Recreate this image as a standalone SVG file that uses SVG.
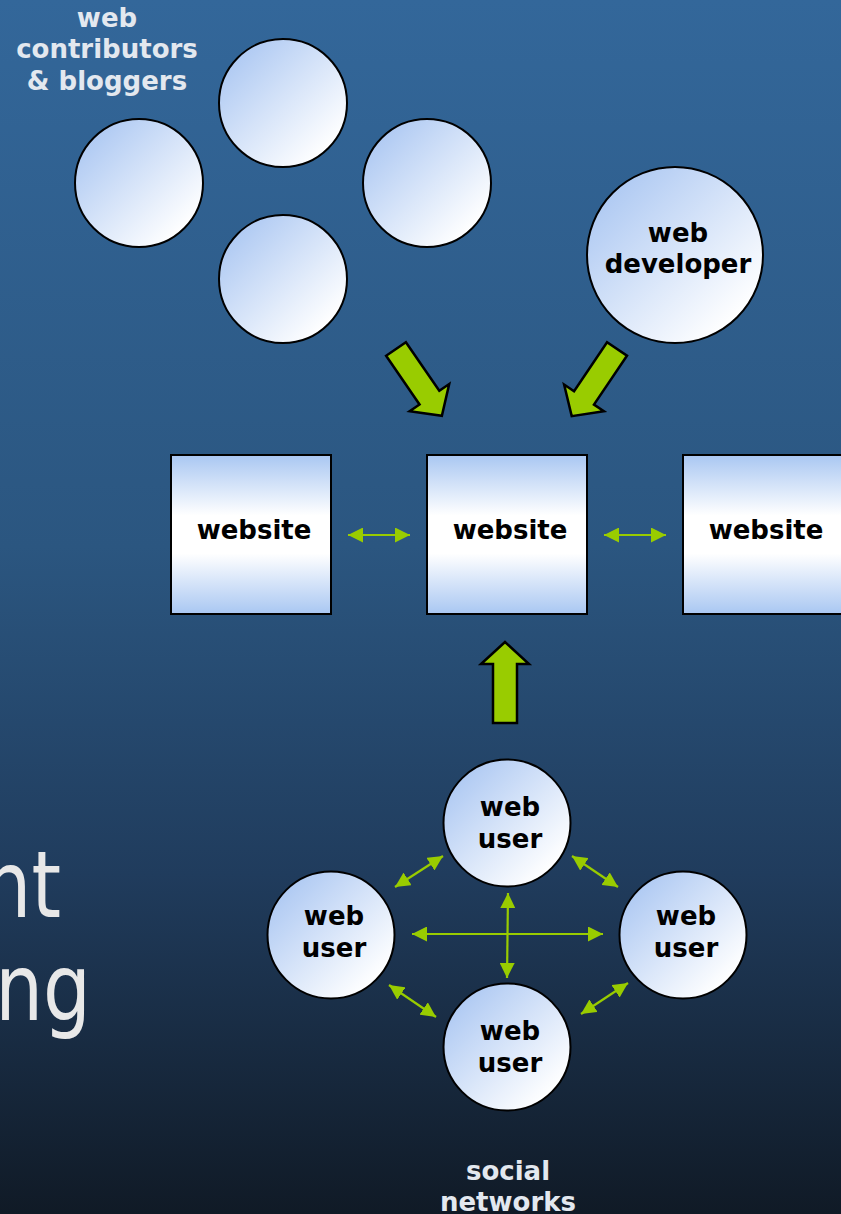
<svg xmlns="http://www.w3.org/2000/svg" width="841" height="1214" viewBox="0 0 841 1214">
<defs>
<linearGradient id="bg" x1="0" y1="0" x2="0" y2="1">
<stop offset="0" stop-color="#33679a"/>
<stop offset="0.45" stop-color="#2b5680"/>
<stop offset="0.72" stop-color="#203c5d"/>
<stop offset="1" stop-color="#101a26"/>
</linearGradient>
<linearGradient id="cg" x1="0.15" y1="0.15" x2="0.85" y2="0.85">
<stop offset="0" stop-color="#b1cbf3"/>
<stop offset="1" stop-color="#ffffff"/>
</linearGradient>
<linearGradient id="rg" x1="0" y1="0" x2="0" y2="1">
<stop offset="0" stop-color="#a9c7f2"/>
<stop offset="0.38" stop-color="#ffffff"/>
<stop offset="0.62" stop-color="#ffffff"/>
<stop offset="1" stop-color="#a9c7f2"/>
</linearGradient>
<marker id="ah" markerUnits="userSpaceOnUse" markerWidth="15" markerHeight="15" viewBox="0 0 15 15" refX="15" refY="7.5" orient="auto-start-reverse">
<path d="M0,0 L15,7.5 L0,15 Z" fill="#99cc00"/>
</marker>
<path id="bigarrow" d="M0,-12 L59,-12 L59,-24 L81,0 L59,24 L59,12 L0,12 Z"/>
</defs>
<style>
.node circle{fill:url(#cg);stroke:#000;stroke-width:2}
.node rect{fill:url(#rg);stroke:#000;stroke-width:2}
.lbl{font-family:"DejaVu Sans","Verdana",sans-serif;font-weight:bold;font-size:26px;fill:#000;text-anchor:middle}
.cap{font-family:"DejaVu Sans","Verdana",sans-serif;font-weight:bold;font-size:26px;fill:#e3e8ef;text-anchor:middle}
.big{font-family:"DejaVu Sans",sans-serif;font-size:92px;fill:#e8e8e8;text-anchor:end}
.conn line{stroke:#99cc00;stroke-width:2.2;marker-start:url(#ah);marker-end:url(#ah)}
.fat use{fill:#99cc00;stroke:#000;stroke-width:2.5;stroke-linejoin:miter}
</style>
<rect x="0" y="0" width="841" height="1214" fill="url(#bg)"/>

<g id="title-fragment">
<text class="big" transform="translate(61,917) scale(0.82,1)">nt</text>
<text class="big" transform="translate(91,1020) scale(0.82,1)">ng</text>
</g>

<g id="contributors-label">
<text class="cap" x="107" y="27">web</text>
<text class="cap" x="107" y="58">contributors</text>
<text class="cap" x="107" y="90">&amp; bloggers</text>
</g>

<g id="contributor1" class="node"><circle cx="283" cy="103" r="64"/></g>
<g id="contributor2" class="node"><circle cx="139" cy="183" r="64"/></g>
<g id="contributor3" class="node"><circle cx="427" cy="183" r="64"/></g>
<g id="contributor4" class="node"><circle cx="283" cy="279" r="64"/></g>

<g id="developer" class="node">
<circle cx="675" cy="255" r="88"/>
<text class="lbl" x="678" y="242">web</text>
<text class="lbl" x="678" y="273">developer</text>
</g>

<g id="website1" class="node">
<rect x="171" y="455" width="160" height="159"/>
<text class="lbl" x="254" y="539">website</text>
</g>
<g id="website2" class="node">
<rect x="427" y="455" width="160" height="159"/>
<text class="lbl" x="510" y="539">website</text>
</g>
<g id="website3" class="node">
<rect x="683" y="455" width="160" height="159"/>
<text class="lbl" x="766" y="539">website</text>
</g>

<g id="user-top" class="node">
<circle cx="507" cy="823" r="63.5"/>
<text class="lbl" x="510" y="816">web</text>
<text class="lbl" x="510" y="848">user</text>
</g>
<g id="user-left" class="node">
<circle cx="331" cy="935" r="63.5"/>
<text class="lbl" x="334" y="925">web</text>
<text class="lbl" x="334" y="957">user</text>
</g>
<g id="user-right" class="node">
<circle cx="683" cy="935" r="63.5"/>
<text class="lbl" x="686" y="925">web</text>
<text class="lbl" x="686" y="957">user</text>
</g>
<g id="user-bottom" class="node">
<circle cx="507" cy="1047" r="63.5"/>
<text class="lbl" x="510" y="1040">web</text>
<text class="lbl" x="510" y="1072">user</text>
</g>

<g id="social-label">
<text class="cap" x="508" y="1180">social</text>
<text class="cap" x="508" y="1211">networks</text>
</g>

<g id="connectors">
<g class="fat">
<use href="#bigarrow" transform="translate(396,349) rotate(55.5)"/>
<use href="#bigarrow" transform="translate(617,349) rotate(124)"/>
<use href="#bigarrow" transform="translate(505,723) rotate(-90)"/>
</g>
<g class="conn">
<line x1="348" y1="535" x2="410" y2="535"/>
<line x1="604" y1="535" x2="666" y2="535"/>
<line x1="395" y1="887" x2="443" y2="856"/>
<line x1="572" y1="856" x2="618" y2="887"/>
<line x1="412" y1="934" x2="603" y2="934"/>
<line x1="508" y1="893" x2="507" y2="978"/>
<line x1="389" y1="985" x2="436" y2="1017"/>
<line x1="628" y1="983" x2="581" y2="1014"/>
</g>
</g>
</svg>
